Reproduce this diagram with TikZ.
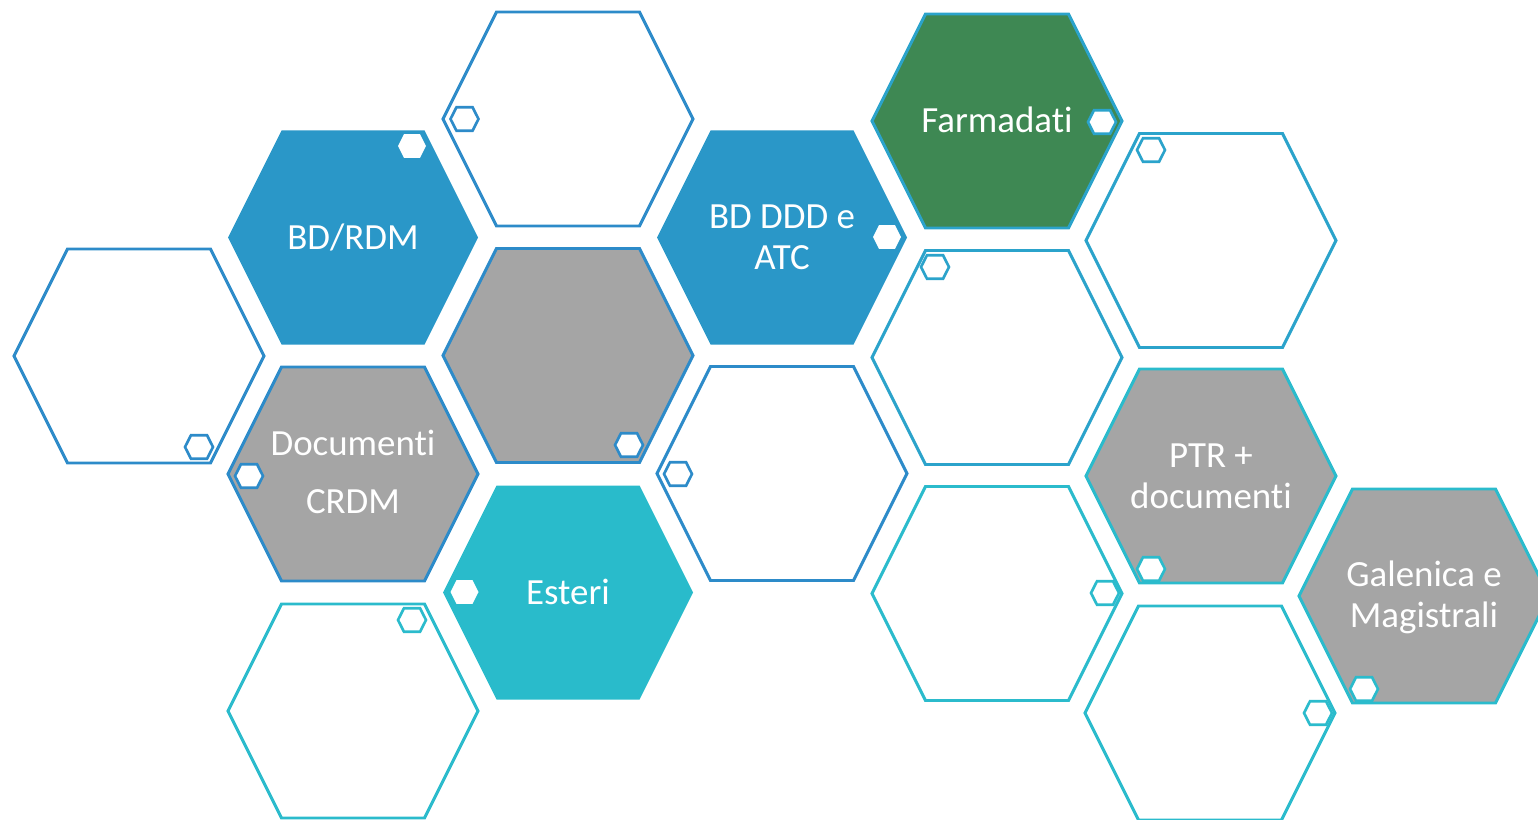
\documentclass[tikz,border=0pt]{standalone}
\usepackage{fontspec}
\setmainfont{Carlito}[Ligatures={NoCommon}]
\usetikzlibrary{positioning}
\definecolor{hexblue}{HTML}{2D8BC9}
\definecolor{hexmid}{HTML}{2BA3CB}
\definecolor{hexteal}{HTML}{2BBBCC}
\definecolor{cellblue}{HTML}{2A97C8}
\definecolor{cellteal}{HTML}{29BBCB}
\definecolor{cellgreen}{HTML}{3E8853}
\definecolor{cellgray}{HTML}{A5A5A5}
\tikzset{
    %Define big hexagon cell
    hexa/.pic={
        \path[pic actions] (-1.25,0) -- (-0.715,1.07) -- (0.715,1.07)
            -- (1.25,0) -- (0.715,-1.07) -- (-0.715,-1.07) -- cycle;},
    %Define small hexagon
    nub/.pic={
        \path[pic actions] (-0.14,0) -- (-0.08,0.118) -- (0.08,0.118)
            -- (0.14,0) -- (0.08,-0.118) -- (-0.08,-0.118) -- cycle;},
    % Define styles for the cells
    rim/.style={
           draw=#1,
           line width=0.85pt,
           fill=white},
    cell/.style={
           fill=#1,
           line width=0.85pt},
    dotrim/.style={
           draw=#1,
           line width=0.75pt,
           fill=white},
    hextext/.style={
           text=white,
           font=\fontsize{10.5}{11.7}\selectfont,
           align=center},
}
\begin{document}
\begin{tikzpicture}
\useasboundingbox (0,0) rectangle (15.38,-8.20);
% empty cells
\pic[rim=hexblue]  at (1.39,-3.56)   {hexa};
\pic[rim=hexblue]  at (5.68,-1.19)   {hexa};
\pic[rim=hexblue]  at (7.82,-4.735)  {hexa};
\pic[rim=hexmid]   at (9.97,-3.575)  {hexa};
\pic[rim=hexmid]   at (12.11,-2.405) {hexa};
\pic[rim=hexteal]  at (9.97,-5.935)  {hexa};
\pic[rim=hexteal]  at (12.10,-7.13)  {hexa};
\pic[rim=hexteal]  at (3.53,-7.11)   {hexa};
% filled cells
\pic[cell=cellblue]  at (3.53,-2.375) {hexa};
\pic[cell=cellblue]  at (7.82,-2.375) {hexa};
\pic[cell=cellteal]  at (5.68,-5.925) {hexa};
\pic[cell=cellgreen, draw=hexmid]  at (9.97,-1.21)   {hexa};
\pic[cell=cellgray, draw=hexblue]  at (3.53,-4.74)   {hexa};
\pic[cell=cellgray, draw=hexblue]  at (5.68,-3.555)  {hexa};
\pic[cell=cellgray, draw=hexteal]  at (12.11,-4.76)  {hexa};
\pic[cell=cellgray, draw=hexteal]  at (14.24,-5.96)  {hexa};
% small hexagons
\pic[fill=white] at (4.12,-1.46)  {nub};
\pic[fill=white] at (8.87,-2.37)  {nub};
\pic[fill=white] at (4.645,-5.92) {nub};
\pic[dotrim=hexblue] at (1.99,-4.47)  {nub};
\pic[dotrim=hexblue] at (4.645,-1.19) {nub};
\pic[dotrim=hexblue] at (2.49,-4.76)  {nub};
\pic[dotrim=hexblue] at (6.29,-4.45)  {nub};
\pic[dotrim=hexblue] at (6.78,-4.74)  {nub};
\pic[dotrim=hexmid]  at (11.02,-1.22) {nub};
\pic[dotrim=hexmid]  at (9.35,-2.67)  {nub};
\pic[dotrim=hexmid]  at (11.51,-1.50) {nub};
\pic[dotrim=hexteal] at (11.51,-5.69) {nub};
\pic[dotrim=hexteal] at (11.05,-5.93) {nub};
\pic[dotrim=hexteal] at (13.18,-7.13) {nub};
\pic[dotrim=hexteal] at (13.64,-6.89) {nub};
\pic[dotrim=hexteal] at (4.12,-6.20)  {nub};
% texts
\node[hextext] (bdrdm)     at (3.53,-2.37)  {BD/RDM};
\node[hextext] (bdddd)     at (7.82,-2.37)  {BD DDD e\\ATC};
\node[hextext] (farmadati) at (9.97,-1.20)  {Farmadati};
\node[hextext, font=\fontsize{10.5}{16.5}\selectfont] (crdm) at (3.53,-4.72) {Documenti\\CRDM};
\node[hextext] (esteri)    at (5.68,-5.92)  {Esteri};
\node[hextext] (ptr)       at (12.11,-4.76) {PTR +\\documenti};
\node[hextext] (galenica)  at (14.24,-5.97) {Galenica e\\Magistrali};
\end{tikzpicture}
\end{document}
